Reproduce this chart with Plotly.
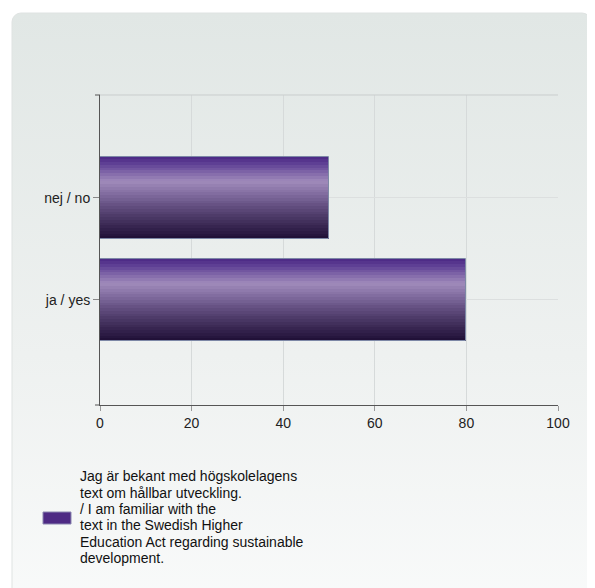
import base64
import plotly.graph_objects as go

# ---- data ----
categories = ["ja / yes", "nej / no"]
values = [80, 50]
x_ticks = [0, 20, 40, 60, 80, 100]
legend_lines = [
    "Jag är bekant med högskolelagens",
    "text om hållbar utveckling.",
    "/ I am familiar with the",
    "text in the Swedish Higher",
    "Education Act regarding sustainable",
    "development.",
]

# ---- geometry (pixels, page body has an 8px margin) ----
OFF = 8
W, H = 595 - OFF, 588 - OFF
L, R, T, B = 100 - OFF, 558 - OFF, 95 - OFF, 405 - OFF
PW, PH = R - L, B - T


def px(x):
    return (x - OFF - L) / PW


def py(y):
    return (B - (y - OFF)) / PH


# background card as SVG image (page coords shifted by OFF)
svg = (
    "<svg xmlns='http://www.w3.org/2000/svg' width='%d' height='%d'>" % (W, H) +
    "<defs><linearGradient id='g' x1='0' y1='0' x2='0' y2='1'>"
    "<stop offset='0' stop-color='#e1e7e5'/>"
    "<stop offset='0.55' stop-color='#eef1f0'/>"
    "<stop offset='1' stop-color='#fafbfb'/></linearGradient></defs>"
    "<rect x='6' y='6' width='580' height='620' rx='9' fill='#c9cdcd'/>"
    "<rect x='4' y='5' width='579' height='620' rx='9' fill='url(#g)' stroke='#dfe3e2'/>"
    "</svg>"
)
svg_uri = "data:image/svg+xml;base64," + base64.b64encode(svg.encode()).decode()

fig = go.Figure()

# gradient bar built from thin slices
stops = [
    (0.0, (0x4a, 0x27, 0x84)),
    (0.08, (0x5d, 0x3e, 0x93)),
    (0.30, (0xa0, 0x8b, 0xbb)),
    (0.45, (0x82, 0x6d, 0xa0)),
    (0.62, (0x5f, 0x4b, 0x7c)),
    (0.82, (0x3c, 0x2a, 0x55)),
    (1.0, (0x1e, 0x0e, 0x35)),
]


def col(t):
    for (t0, c0), (t1, c1) in zip(stops[:-1], stops[1:]):
        if t0 <= t <= t1:
            f = (t - t0) / (t1 - t0)
            c = [round(a + (b - a) * f) for a, b in zip(c0, c1)]
            return "rgb(%d,%d,%d)" % tuple(c)
    return "rgb(30,14,53)"


bw = 0.81
N = 30
for i in range(N):
    t = (i + 0.5) / N
    fig.add_trace(go.Bar(
        x=values, y=categories, orientation="h",
        width=bw / N * 1.05, offset=bw / 2 - (i + 1) * bw / N,
        marker=dict(color=col(t), line=dict(width=0)),
        showlegend=False, hoverinfo="skip",
    ))
fig.add_trace(go.Bar(
    x=values, y=categories, orientation="h",
    width=bw, offset=-bw / 2,
    marker=dict(color="rgba(0,0,0,0)", line=dict(color="#7d88a6", width=1)),
    showlegend=False,
))

shapes = [
    # top border of plot
    dict(type="line", xref="paper", yref="paper", x0=0, x1=1, y0=1, y1=1,
         line=dict(color="#c9cdcd", width=1)),
    # small end ticks of y axis
    dict(type="line", xref="paper", yref="paper", x0=px(95), x1=0, y0=1, y1=1,
         line=dict(color="#555", width=1)),
    dict(type="line", xref="paper", yref="paper", x0=px(95), x1=0, y0=0, y1=0,
         line=dict(color="#555", width=1)),
    # legend swatch
    dict(type="rect", xref="paper", yref="paper", x0=px(43), x1=px(71),
         y0=py(524), y1=py(512), fillcolor="#4e2a84",
         line=dict(color="#8a86b0", width=1)),
]

annotations = []
line_y = [476, 492.5, 509, 525, 541.5, 558]
for txt, yy in zip(legend_lines, line_y):
    annotations.append(dict(
        text=txt, xref="paper", yref="paper", x=px(78), y=py(yy),
        xanchor="left", yanchor="middle", showarrow=False, align="left",
        font=dict(family="Liberation Sans, Arial", size=14, color="#111"),
    ))

fig.update_layout(
    width=W, height=H,
    margin=dict(l=L, r=W - R, t=T, b=H - B),
    paper_bgcolor="white", plot_bgcolor="rgba(0,0,0,0)",
    barmode="overlay", bargap=0,
    font=dict(family="Liberation Sans, Arial", size=14, color="#222"),
    images=[dict(source=svg_uri, xref="paper", yref="paper",
                 x=-L / PW, y=1 + T / PH, sizex=W / PW, sizey=H / PH,
                 sizing="stretch", layer="below", xanchor="left", yanchor="top")],
    shapes=shapes, annotations=annotations,
    xaxis=dict(range=[0, 100], tickvals=x_ticks, ticktext=[str(v) for v in x_ticks],
               showgrid=True, gridcolor="#d6dada", gridwidth=1,
               showline=True, linecolor="#555", linewidth=1,
               ticks="outside", ticklen=5, tickcolor="#999",
               zeroline=False, fixedrange=True),
    yaxis=dict(type="category", categoryorder="array", categoryarray=categories,
               range=[-1.03, 2.01],
               showgrid=True, gridcolor="#dcdfdf", gridwidth=1,
               showline=True, linecolor="#555", linewidth=1,
               ticks="outside", ticklen=6, tickcolor="#888",
               zeroline=False, fixedrange=True),
)

fig.write_html("out.html")
